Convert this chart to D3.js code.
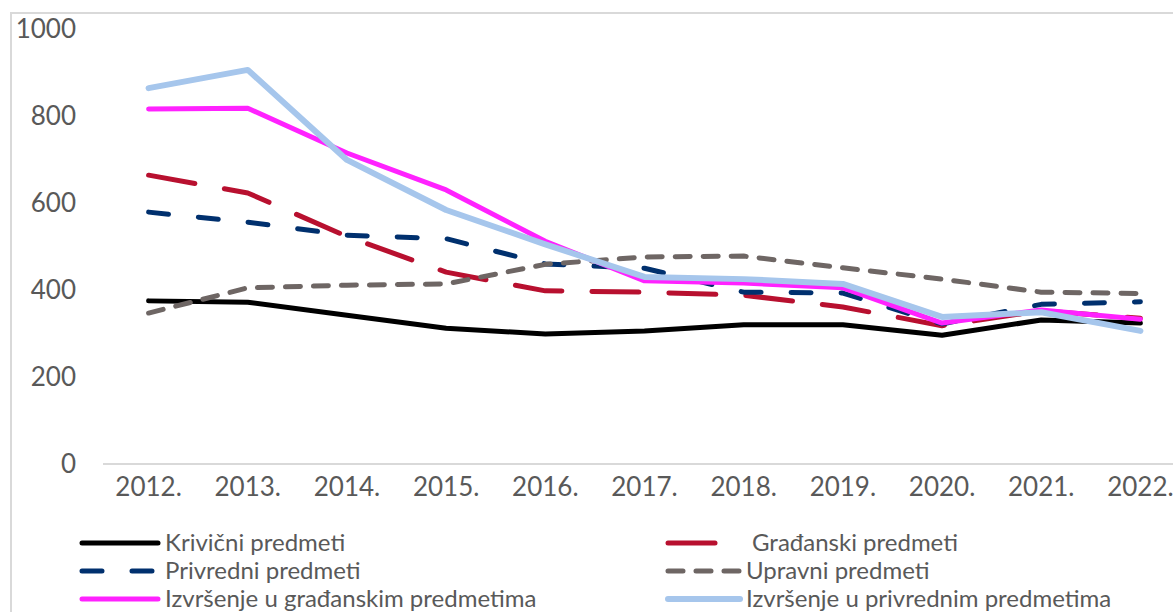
<!DOCTYPE html>
<html>
<head>
<meta charset="utf-8">
<script src="https://cdn.jsdelivr.net/npm/d3@7"></script>
<style>
  body { margin: 0; background: #fff; }
  text { font-family: Lato, "Open Sans", sans-serif; fill: #595959; }
</style>
</head>
<body>
<script>
// chart data
var years = ["2012.", "2013.", "2014.", "2015.", "2016.", "2017.",
    "2018.", "2019.", "2020.", "2021.", "2022."];
var yTicks = [0, 200, 400, 600, 800, 1000];

var krivicni   = [375, 372, 342, 312, 299, 306, 320, 320, 296, 331, 324];
var gradjanski = [664, 623, 523, 441, 398, 395, 388, 361, 318, 352, 335];
var privredni  = [579, 556, 526, 518, 460, 450, 395, 393, 322, 367, 373];
var upravni    = [347, 405, 411, 414, 459, 476, 478, 451, 425, 395, 392];
var izvrsGr    = [816, 818, 715, 630, 512, 421, 416, 405, 324, 354, 333];
var izvrsPr    = [864, 906, 699, 584, 505, 430, 425, 414, 338, 349, 306];

var seriesNames = ["Krivični predmeti", "Građanski predmeti", "Privredni predmeti",
    "Upravni predmeti", "Izvršenje u građanskim predmetima",
    "Izvršenje u privrednim predmetima"];

var series = [
    {name: seriesNames[0], values: krivicni,   color: "#000000", dash: null,    w: 5},
    {name: seriesNames[1], values: gradjanski, color: "#b8102f", dash: "47,30", w: 5},
    {name: seriesNames[2], values: privredni,  color: "#00306e", dash: "20,30", w: 5},
    {name: seriesNames[3], values: upravni,    color: "#6e6664", dash: "15,13", w: 5},
    {name: seriesNames[4], values: izvrsGr,    color: "#ff22ff", dash: null,    w: 5},
    {name: seriesNames[5], values: izvrsPr,    color: "#a6c6ec", dash: null,    w: 6}
];

var width = 1173, height = 612;

var svg = d3.select("body")
    .append("svg")
    .attr("width", width)
    .attr("height", height);

// outer chart frame (cropped on the right and bottom)
svg.append("rect")
    .attr("x", 11).attr("y", 13)
    .attr("width", 1200).attr("height", 700)
    .attr("fill", "none")
    .attr("stroke", "#d9d9d9")
    .attr("stroke-width", 2);

var x = d3.scaleBand()
    .domain(years)
    .range([99, 1190]);

var y = d3.scaleLinear()
    .domain([0, 1000])
    .range([464, 29]);

function cx(d) { return x(d) + x.bandwidth() / 2; }

// y axis labels only
var yAxis = d3.axisLeft(y)
    .tickValues(yTicks)
    .tickFormat(d3.format("d"))
    .tickSize(0)
    .tickPadding(0);

var gy = svg.append("g")
    .attr("transform", "translate(76,0)")
    .call(yAxis);
gy.select(".domain").remove();
gy.selectAll("text")
    .attr("font-size", 26)
    .attr("fill", "#595959")
    .style("font-family", "Lato, sans-serif");

// category axis: baseline plus labels
var xAxis = d3.axisBottom(x).tickSize(0).tickPadding(0);
var gx = svg.append("g")
    .attr("transform", "translate(0," + y(0) + ")")
    .call(xAxis);
gx.select(".domain").remove();
gx.selectAll("text")
    .attr("font-size", 26)
    .attr("dy", "0.32em")
    .attr("y", 24)
    .attr("fill", "#595959")
    .style("font-family", "Lato, sans-serif");

svg.append("line")
    .attr("x1", 103).attr("x2", width)
    .attr("y1", y(0)).attr("y2", y(0))
    .attr("stroke", "#d9d9d9")
    .attr("stroke-width", 2);

var line = d3.line()
    .x(function(d, i) { return cx(years[i]); })
    .y(function(d) { return y(d); });

svg.selectAll("path.series")
    .data(series)
    .enter()
    .append("path")
    .attr("class", "series")
    .attr("d", function(d) { return line(d.values); })
    .attr("fill", "none")
    .attr("stroke", function(d) { return d.color; })
    .attr("stroke-width", function(d) { return d.w; })
    .attr("stroke-dasharray", function(d) { return d.dash; })
    .attr("stroke-linecap", "round")
    .attr("stroke-linejoin", "round");

// legend, two columns
var legendPos = [
    {x1: 82, x2: 158, tx: 165, y: 543},
    {x1: 668, x2: 716, tx: 752, y: 543},
    {x1: 82, x2: 158, tx: 165, y: 571},
    {x1: 668, x2: 740, tx: 746, y: 571},
    {x1: 82, x2: 158, tx: 165, y: 599},
    {x1: 668, x2: 740, tx: 746, y: 599}
];

var legend = svg.selectAll("g.legend")
    .data(series)
    .enter()
    .append("g")
    .attr("class", "legend");

legend.append("line")
    .attr("x1", function(d, i) { return legendPos[i].x1; })
    .attr("x2", function(d, i) { return legendPos[i].x2; })
    .attr("y1", function(d, i) { return legendPos[i].y; })
    .attr("y2", function(d, i) { return legendPos[i].y; })
    .attr("stroke", function(d) { return d.color; })
    .attr("stroke-width", function(d) { return d.w; })
    .attr("stroke-dasharray", function(d) { return d.dash; })
    .attr("stroke-linecap", "round");

legend.append("text")
    .attr("x", function(d, i) { return legendPos[i].tx; })
    .attr("y", function(d, i) { return legendPos[i].y; })
    .attr("dy", "0.35em")
    .attr("font-size", 24)
    .text(function(d) { return d.name; });
</script>
</body>
</html>
